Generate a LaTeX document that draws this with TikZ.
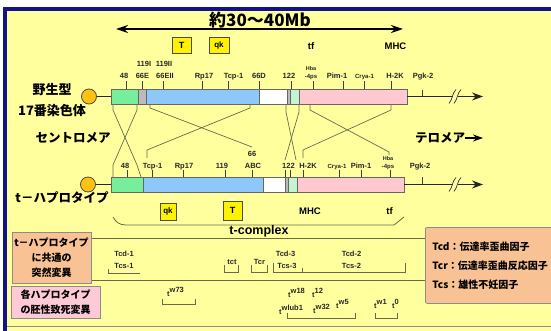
\documentclass[tikz,border=0pt]{standalone}
\usepackage{fontspec}
\setmainfont{Liberation Sans}
\newfontfamily\jp{Noto Sans CJK JP}
\usepackage{tikz}
\usetikzlibrary{arrows.meta, positioning}
\usepackage{xcolor}

\definecolor{bgyel}{HTML}{FFFF9E}
\definecolor{navy}{HTML}{12128A}
\definecolor{mint}{HTML}{77EE9C}
\definecolor{palemint}{HTML}{C4F5D0}
\definecolor{sky}{HTML}{8EC8FA}
\definecolor{rose}{HTML}{FFC9CF}
\definecolor{segray}{HTML}{BBBBBB}
\definecolor{gold}{HTML}{FFC20E}
\definecolor{peach}{HTML}{F9C294}
\definecolor{blush}{HTML}{FFCAD8}
\definecolor{lineclr}{HTML}{6A6A4E}

\newcommand{\allelesup}[1]{\raisebox{3.5pt}{\fontsize{7.5}{7.5}\selectfont #1}}

\begin{document}
\begin{tikzpicture}[x=1pt, y=-1pt,
    seg/.style={draw=black!60, line width=0.8pt, inner sep=0pt, outer sep=0pt, minimum height=15pt, anchor=north west},
    cen/.style={circle, draw=black!70, fill=gold, line width=0.8pt, minimum size=15pt, inner sep=0pt},
    gene/.style={draw=black!70, fill=yellow, line width=0.8pt, inner sep=0pt, font=\bfseries\fontsize{9}{9}\selectfont},
    lbl/.style={inner sep=0pt, anchor=base, text=black!85, font=\bfseries\fontsize{7.5}{7.5}\selectfont},
    mini/.style={inner sep=0pt, anchor=base, text=black!85, font=\bfseries\fontsize{6}{6}\selectfont},
    tick/.style={draw=black!75, line width=0.6pt},
    cross/.style={draw=lineclr, line width=0.7pt},
    brace/.style={draw=lineclr, line width=0.8pt},
    jlbl/.style={inner sep=0pt, font=\jp\bfseries\fontsize{13}{13}\selectfont},
    gt/.style={inner sep=0pt, font=\bfseries\fontsize{9.5}{9.5}\selectfont},
    allele/.style={inner sep=0pt, anchor=base west, text=black!85, font=\bfseries\fontsize{7.5}{7.5}\selectfont},
    chrline/.style={draw=black!85, line width=1.3pt},
    tip/.style={-{Stealth[length=11pt,width=8pt]}}
  ]
  \useasboundingbox (0,0) rectangle (551,331);

  % Sfondo
  \fill[white] (0,0) rectangle (551,331);
  \fill[bgyel] (5,9) rectangle (551,331);
  \draw[navy, line width=3.5pt] (5,331) -- (5,9) -- (551,9);
  \draw[black!45, line width=1pt] (7,326) -- (551,326);

  % Scala
  \coordinate (spanL) at (116,29);
  \coordinate (spanR) at (403,29);
  \draw[line width=1.6pt, {Stealth[length=12pt,width=8pt]}-{Stealth[length=12pt,width=8pt]}] (spanL) -- (spanR);
  \node[inner sep=0pt, font=\jp\bfseries\fontsize{17}{17}\selectfont] (span) at (260,20) {約30〜40Mb};

  % Geni sopra
  \node[gene, minimum width=19pt, minimum height=16pt] (Tw) at (181.5,45) {T};
  \node[gene, minimum width=20pt, minimum height=16pt, font=\bfseries\fontsize{8}{8}\selectfont] (qkw) at (219,45) {qk};
  \node[gt] (tfw) at (311,46.5) {tf};
  \node[gt] (mhcw) at (395.5,46.5) {MHC};

  % Cromosoma selvatico
  \node[cen] (wc) at (89,96.5) {};
  \node[seg, fill=mint, minimum width=27pt] (w1) at (111,89) {};
  \node[seg, fill=segray, minimum width=8pt, right=0pt of w1] (w2) {};
  \node[seg, fill=sky, minimum width=113pt, right=0pt of w2] (w3) {};
  \node[seg, fill=white, minimum width=28pt, right=0pt of w3] (w4) {};
  \node[seg, fill=segray, minimum width=3pt, right=0pt of w4] (w5) {};
  \node[seg, fill=palemint, minimum width=9pt, right=0pt of w5] (w6) {};
  \node[seg, fill=rose, minimum width=108pt, right=0pt of w6] (w7) {};
  \coordinate (wend) at (483,96.5);
  \draw[chrline] (wc) -- (w1.west);
  \draw[chrline, tip] (w7.east) -- (wend);

  % Cromosoma t
  \node[cen] (tc) at (88,184.5) {};
  \node[seg, fill=mint, minimum width=32pt] (t1) at (111,177) {};
  \node[seg, fill=sky, minimum width=120pt, right=0pt of t1] (t2) {};
  \node[seg, fill=white, minimum width=22pt, right=0pt of t2] (t3) {};
  \node[seg, fill=segray, minimum width=3pt, right=0pt of t3] (t4) {};
  \node[seg, fill=palemint, minimum width=9pt, right=0pt of t4] (t5) {};
  \node[seg, fill=rose, minimum width=107pt, right=0pt of t5] (t6) {};
  \coordinate (tend) at (483,184.5);
  \draw[chrline] (tc) -- (t1.west);
  \draw[chrline, tip] (t6.east) -- (tend);

  % Interruzioni
  \foreach \by in {96.5,184.5} {
    \fill[bgyel] (450,\by+7) -- (455,\by+7) -- (461,\by-7) -- (456,\by-7) -- cycle;
    \draw[black!80, line width=0.7pt] (449,\by+7) .. controls (453,\by+2) and (452,\by-3) .. (456,\by-7);
    \draw[black!80, line width=0.7pt] (454,\by+7) .. controls (458,\by+2) and (457,\by-3) .. (461,\by-7);
  }

  % Marcatori sopra
  \foreach \tx/\lx/\lab [count=\i] in {126/124/48, 142/142.5/66E, 163/165/66EII, 202/204/Rp17, 228/233.5/Tcp-1, 259/259/66D, 291/289/122, 343/337/Pim-1, 391/395/H-2K} {
    \draw[tick] (\tx,81) -- (\tx,89);
    \node[lbl] (wl\i) at (\lx,79) {\lab};
  }
  \node[lbl] (wu1) at (144,67) {119I};
  \node[lbl] (wu2) at (164,67) {119II};
  \draw[tick] (364,81) -- (364,89);
  \node[mini] (wcry) at (364.5,79) {Crya-1};
  \draw[tick] (313,81) -- (313,89);
  \node[mini] (wps) at (311,79) {-4ps};
  \node[mini, font=\bfseries\fontsize{5.5}{5.5}\selectfont] (whba) at (311,70.5) {Hba};
  \draw[tick] (422,90) -- (422,96.5);
  \node[lbl] (wpgk) at (423,79) {Pgk-2};

  % Marcatori sotto
  \foreach \tx/\lx/\lab [count=\i] in {127/125/48, 152/152.5/Tcp-1, 183/184/Rp17, 225/222/119, 252/253/ABC, 303/308/H-2K, 361/361/Pim-1} {
    \draw[tick] (\tx,170) -- (\tx,177);
    \node[lbl] (tl\i) at (\lx,168.5) {\lab};
  }
  \node[lbl] (t66) at (252,157) {66};
  \draw[tick] (285.5,170) -- (285.5,177);
  \draw[tick] (290,170) -- (290,177);
  \node[lbl] (t122) at (288.5,168.5) {122};
  \draw[tick] (339,170) -- (339,177);
  \node[mini] (tcry) at (337,168.5) {Crya-1};
  \draw[tick] (390,170) -- (390,177);
  \node[mini] (tps) at (388,168.5) {-4ps};
  \node[mini, font=\bfseries\fontsize{5.5}{5.5}\selectfont] (thba) at (388,160.5) {Hba};
  \draw[tick] (422,177) -- (422,184.5);
  \node[lbl] (tpgk) at (420,168.5) {Pgk-2};

  % Inversioni
  \draw[cross] (113,104) -- (113,110) -- (137,165) -- (141,177);
  \draw[cross] (137,104) -- (137,110) -- (113,165) -- (113,177);
  \draw[cross] (150,104) -- (150,108) -- (252,147);
  \draw[cross] (250,104) -- (250,108) -- (147,150) -- (147,158);
  \draw[cross] (286,104) -- (286,112) -- (296,160);
  \draw[cross] (299,104) -- (299,112) -- (285,160);
  \draw[cross] (310,104) -- (310,110) -- (389,152) -- (389,155);
  \draw[cross] (391,104) -- (391,110) -- (303,150) -- (303,158);

  % Etichette laterali
  \node[jlbl] (wildA) at (52,90) {野生型};
  \node[jlbl] (wildB) at (52,111) {17番染色体};
  \node[jlbl, font=\jp\bfseries\fontsize{12.5}{12.5}\selectfont] (centro) at (73,138) {セントロメア};
  \node[jlbl, font=\jp\bfseries\fontsize{12.5}{12.5}\selectfont] (telo) at (440,138) {テロメア};
  \coordinate (teloend) at (483,138);
  \draw[line width=1.2pt, -{Stealth[length=10pt,width=7pt]}] (telo.east) -- (teloend);
  \node[jlbl, font=\jp\bfseries\fontsize{12.5}{12.5}\selectfont] (thap) at (62,198) {t－ハプロタイプ};

  % Geni sotto e t-complex
  \node[gene, minimum width=16pt, minimum height=17pt, font=\bfseries\fontsize{8}{8}\selectfont] (qkt) at (168,211.5) {qk};
  \node[gene, minimum width=19pt, minimum height=19pt] (Tt) at (232.5,210.5) {T};
  \node[gt] (mhct) at (310,211) {MHC};
  \node[gt] (tft) at (389.5,211) {tf};
  \draw[brace] (113,217) .. controls (116,222) and (119,225) .. (126,225) -- (394,225) -- (404,217);
  \node[inner sep=0pt, font=\bfseries\fontsize{12.5}{12.5}\selectfont] (tcx) at (259,231) {t-complex};

  % Righe mutazioni
  \draw[brace, line width=1pt] (91,238) -- (425,238);
  \draw[brace, line width=1pt] (91,280) -- (425,280);
  \node[draw=black!45, fill=peach, line width=0.8pt, minimum width=79pt, minimum height=51pt, inner sep=0pt, align=center, font=\jp\bfseries\fontsize{10}{15}\selectfont] (mutbox) at (51.5,257.5) {t－ハプロタイプ\\に共通の\\突然変異};
  \node[draw=black!45, fill=blush, line width=0.8pt, minimum width=89pt, minimum height=32pt, inner sep=0pt, align=center, font=\jp\bfseries\fontsize{10}{15}\selectfont] (letbox) at (55.5,302) {各ハプロタイプ\\の胚性致死変異};
  \node[draw=black!45, fill=peach, rounded corners=2pt, line width=0.8pt, anchor=north west, minimum height=76pt, text width=120pt, inner xsep=7pt, align=left, font=\jp\bfseries\fontsize{10}{19}\selectfont] (legend) at (425,227) {Tcd：伝達率歪曲因子\\Tcr：伝達率歪曲反応因子\\Tcs：雄性不妊因子};

  % Tcd / Tcs
  \node[lbl] (tcd1) at (124,256.5) {Tcd-1};
  \node[lbl] (tcs1) at (124,268) {Tcs-1};
  \draw[brace] (108,269) -- (108,273) -- (140,273);
  \node[lbl] (tct) at (232,264) {tct};
  \draw[brace] (224,265) -- (224,272) -- (238,272) -- (238,265);
  \node[lbl] (tcr) at (259.5,264.5) {Tcr};
  \draw[brace] (251,265) -- (251,272) -- (267,272) -- (267,265);
  \node[lbl] (tcd3) at (285.5,256) {Tcd-3};
  \node[lbl] (tcs3) at (287,268) {Tcs-3};
  \draw[brace] (273,263) -- (273,272) -- (302,272) -- (302,268);
  \node[lbl] (tcd2) at (351.5,256) {Tcd-2};
  \node[lbl] (tcs2) at (351.5,268) {Tcs-2};
  \draw[brace] (301,272) -- (405,272) -- (405,263);

  % Letali
  \node[allele] (aw73) at (167,296) {t\allelesup{w73}};
  \draw[brace] (162,299) -- (162,304) -- (195,304) -- (195,299);
  \node[allele] (aw18) at (288,297) {t\allelesup{w18}};
  \node[allele] (a12) at (312,297) {t\allelesup{12}};
  \node[allele] (awlub) at (279,314) {t\allelesup{wlub1}};
  \node[allele] (aw32) at (313,313) {t\allelesup{w32}};
  \node[allele] (aw5) at (336,308) {t\allelesup{w5}};
  \draw[brace] (287,313) -- (287,318) -- (355,318) -- (355,313);
  \node[allele] (aw1) at (374,308) {t\allelesup{w1}};
  \node[allele] (a0) at (392,308) {t\allelesup{0}};
  \draw[brace] (375,313) -- (375,318) -- (397,318) -- (397,313);
\end{tikzpicture}
\end{document}
